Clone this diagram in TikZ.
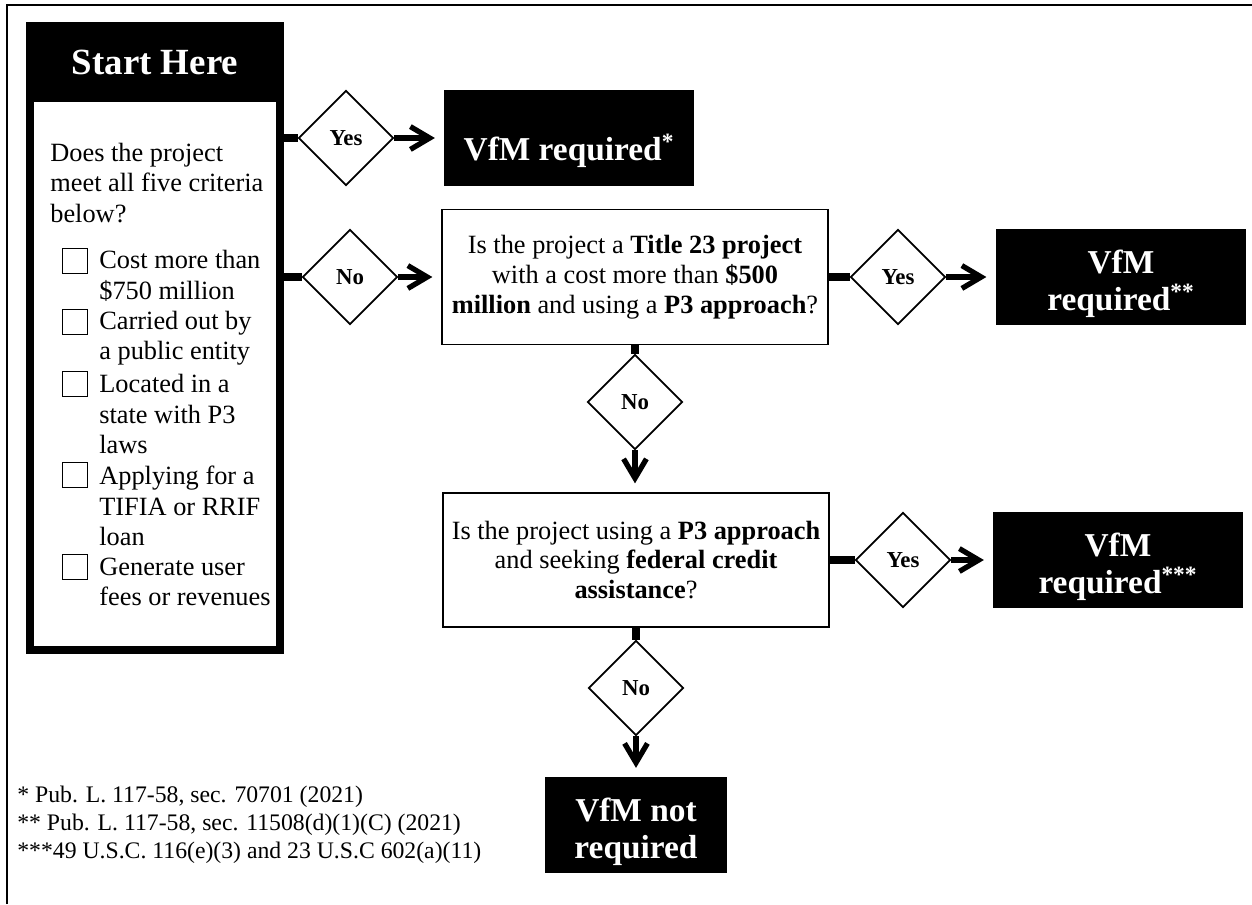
\documentclass[tikz,border=0pt]{standalone}
\usepackage{fontspec}
\setmainfont{Liberation Serif}
\usetikzlibrary{shapes.geometric,arrows.meta,positioning}

\tikzset{
  decision/.style={diamond, draw=black, line width=1pt, fill=white, minimum width=1.9cm, minimum height=1.9cm, inner sep=0pt, font=\fontsize{13}{15}\selectfont\bfseries},
  question/.style={rectangle, draw=black, line width=1pt, minimum width=7.72cm, minimum height=2.7cm, align=center, font=\fontsize{15}{17}\selectfont},
  outcome/.style={rectangle, fill=black, text=white, minimum width=5cm, minimum height=1.92cm, align=center, font=\fontsize{19}{21}\selectfont\bfseries, execute at begin node={\rule{0pt}{#1}}},
  outcome/.default=42pt,
  feed/.style={line width=4pt},
  go/.style={line width=3pt, shorten >=5pt, -{Straight Barb[length=11pt,width=13pt]}},
  tickbox/.style={rectangle, draw=black, line width=0.8pt, minimum size=0.5cm, inner sep=0pt},
  crit/.style={anchor=west, align=left, inner sep=0pt, font=\fontsize{15}{17.4}\selectfont}
}

\begin{document}
\begin{tikzpicture}[x=0.02cm, y=-0.02cm]

    \useasboundingbox (0,0) rectangle (1252,904);
    \draw[line width=1.1pt] (7,904) -- (7,5) -- (1252,5);

    % start box
    \node[fill=black, minimum width=5.16cm, minimum height=12.64cm, inner sep=0pt] (start) at (155,338) {};
    \node[fill=white, minimum width=4.84cm, minimum height=10.88cm, inner sep=0pt] (startbody) at (155,374) {};
    \node[text=white, font=\fontsize{21}{23}\selectfont\bfseries] (starttitle) at (155,62) {Start Here};
    \node[crit] (ask) at (50,183) {Does the project\\meet all five criteria\\below?};

    \node[tickbox] (tick1) at (75,261) {};
    \node[tickbox] (tick2) at (75,322) {};
    \node[tickbox] (tick3) at (75,384) {};
    \node[tickbox] (tick4) at (75,475) {};
    \node[tickbox] (tick5) at (75,567) {};
    \node[crit] (crit1) at (99,276) {Cost more than\\\$750 million};
    \node[crit] (crit2) at (99,338) {Carried out by\\a public entity};
    \node[crit] (crit3) at (99,414) {Located in a\\state with P3\\laws};
    \node[crit] (crit4) at (99,506) {Applying for a\\TIFIA or RRIF\\loan};
    \node[crit] (crit5) at (99,582) {Generate user\\fees or revenues};

    % decisions
    \node[decision] (yesA) at (346,138) {Yes};
    \node[outcome=30pt] (reqA) at (569,138) {VfM required\textsuperscript{*}};

    \node[decision] (noA) at (350,277) {No};
    \node[question] (title) at (635,277) {Is the project a \textbf{Title 23 project}\\with a cost more than \textbf{\$500}\\\textbf{million} and using a \textbf{P3 approach}?};
    \node[decision] (yesB) at (898,277) {Yes};
    \node[outcome, minimum width=5.02cm] (reqB) at (1121,277) {VfM\\required\textsuperscript{**}};

    \node[decision] (noB) at (635,402) {No};
    \node[question, minimum height=2.68cm] (pthree) at (636,560) {Is the project using a \textbf{P3 approach}\\and seeking \textbf{federal credit}\\\textbf{assistance}?};
    \node[decision] (yesC) at (903,560) {Yes};
    \node[outcome] (reqC) at (1118,560) {VfM\\required\textsuperscript{***}};

    \node[decision] (noC) at (636,688) {No};
    \node[outcome, minimum width=3.66cm] (notreq) at (636,825) {VfM not\\required};

    % connectors
    \draw[feed] (start.east |- yesA) -- (yesA.west);
    \draw[go] (yesA.east) -- (reqA.west);
    \draw[feed] (start.east |- noA) -- (noA.west);
    \draw[go] (noA.east) -- (title.west |- noA);
    \draw[feed] (title.east) -- (yesB.west);
    \draw[go] (yesB.east) -- (reqB.west);
    \draw[feed] (title.south) -- (noB.north);
    \draw[go] (noB.south) -- (pthree.north -| noB);
    \draw[feed] (pthree.east) -- (yesC.west);
    \draw[go] (yesC.east) -- (reqC.west);
    \draw[feed] (pthree.south -| noC) -- (noC.north);
    \draw[go] (noC.south) -- (notreq.north);

    \node[anchor=west, align=left, inner sep=0pt, font=\fontsize{13.5}{16}\selectfont] (notes) at (17,825) {* Pub. L. 117-58, sec. 70701 (2021)\\** Pub. L. 117-58, sec. 11508(d)(1)(C) (2021)\\***49 U.S.C. 116(e)(3) and 23 U.S.C 602(a)(11)};

\end{tikzpicture}
\end{document}
